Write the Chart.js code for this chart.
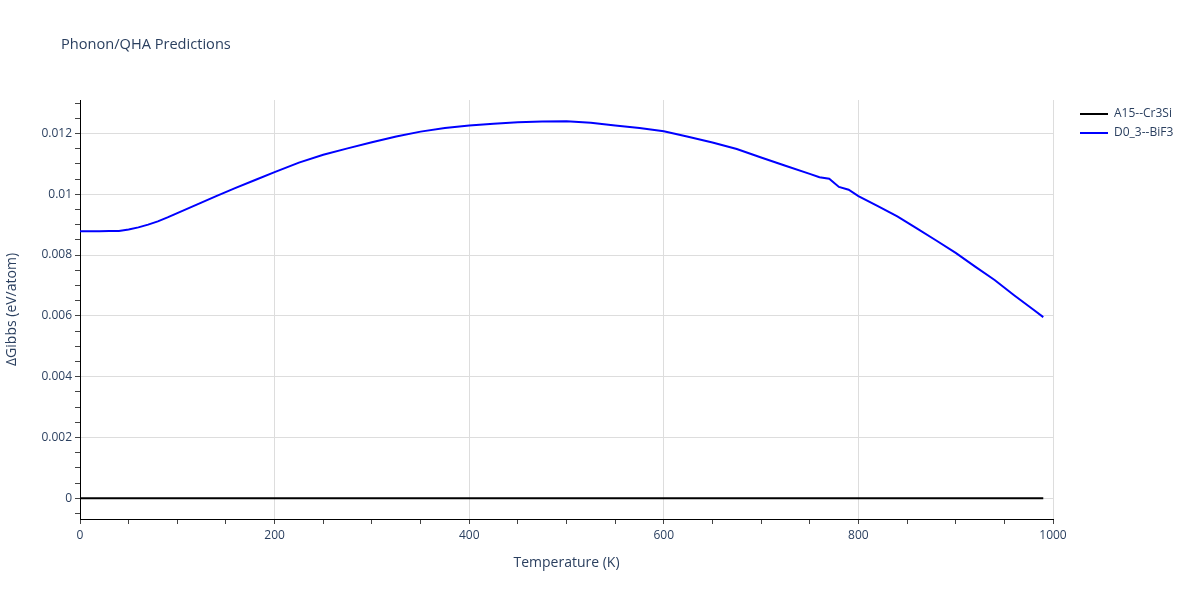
<!DOCTYPE html>
<html>
<head>
<meta charset="utf-8">
<script src="https://cdn.jsdelivr.net/npm/chart.js@4/dist/chart.umd.min.js"></script>
<style>
html,body{margin:0;padding:0;background:#fff;}
#wrap{position:relative;width:1200px;height:600px;}
</style>
</head>
<body>
<div id="wrap"><canvas id="c" width="1200" height="600"></canvas></div>
<script>
const chartTitle = "Phonon/QHA Predictions";
const xTitle = "Temperature (K)";
const yTitle = "ΔGibbs (eV/atom)";
const seriesNames = ["A15--Cr3Si", "D0_3--BiF3"];
const seriesColors = ["#000000", "#0000ff"];

const tempsA15 = [0, 990];
const gibbsA15 = [0, 0];

const tempsD03 = [0,10,20,30,40,50,60,70,80,90,100,120,140,160,180,200,225,250,275,300,325,350,375,400,425,450,475,500,525,550,575,600,625,650,675,700,725,750,760,770,780,790,800,820,840,860,880,900,920,940,960,980,990];
const gibbsD03 = [0.00878,0.00878,0.00878,0.00879,0.00879,0.00884,0.00891,0.00900,0.00911,0.00924,0.00938,0.00966,0.00994,0.01021,0.01047,0.01073,0.01104,0.01130,0.01151,0.01171,0.01190,0.01206,0.01218,0.01226,0.01232,0.01237,0.01239,0.01240,0.01235,0.01226,0.01218,0.01207,0.01189,0.01170,0.01149,0.01121,0.01094,0.01067,0.01056,0.01051,0.01024,0.01015,0.00994,0.00961,0.00927,0.00888,0.00848,0.00807,0.00762,0.00718,0.00668,0.00620,0.00596];

const xLabelTicks = [0,200,400,600,800,1000];
const yLabelTicks = [0,0.002,0.004,0.006,0.008,0.01,0.012];

const FONT = "'Open Sans', verdana, arial, sans-serif";
const TXT = "#2a3f5f";

function toXY(xs, ys){ return xs.map((x,i)=>({x:x, y:ys[i]})); }
function isMajor(v, step){ return Math.abs(v/step - Math.round(v/step)) < 1e-6; }

const overlay = {
  id:'overlay',
  afterDraw(chart){
    const ctx = chart.ctx;
    ctx.save();
    ctx.fillStyle = TXT;
    ctx.font = "14.6px " + FONT;
    ctx.textBaseline = "middle";
    ctx.textAlign = "left";
    ctx.fillText(chartTitle, 61, 45);
    ctx.font = "12px " + FONT;
    seriesNames.forEach((n,i)=>{
      const y = 114 + i*19;
      ctx.strokeStyle = seriesColors[i];
      ctx.lineWidth = 2;
      ctx.beginPath(); ctx.moveTo(1080,y); ctx.lineTo(1108,y); ctx.stroke();
      ctx.fillStyle = TXT;
      ctx.fillText(n, 1114, y);
    });
    ctx.restore();
  }
};

new Chart(document.getElementById('c'), {
  type:'line',
  data:{
    datasets:[
      {label:seriesNames[0], data:toXY(tempsA15,gibbsA15), borderColor:seriesColors[0], borderWidth:2, pointRadius:0, tension:0, fill:false},
      {label:seriesNames[1], data:toXY(tempsD03,gibbsD03), borderColor:seriesColors[1], borderWidth:2, pointRadius:0, tension:0, fill:false}
    ]
  },
  options:{
    responsive:false,
    animation:false,
    layout:{padding:{top:100,right:147,bottom:0,left:0}},
    plugins:{legend:{display:false}, title:{display:false}, tooltip:{enabled:false}},
    scales:{
      x:{
        type:'linear', min:0, max:1000,
        afterFit(s){ s.height = 81; },
        ticks:{stepSize:50, includeBounds:false, autoSkip:false, maxRotation:0, padding:4,
          color:TXT, font:{family:FONT, size:12},
          callback:(v)=> xLabelTicks.includes(Math.round(v)) && isMajor(v,200) ? String(Math.round(v)) : ''},
        grid:{
          color:(c)=> (c.tick && isMajor(c.tick.value,200) && c.tick.value>0) ? '#dddddd' : 'rgba(0,0,0,0)',
          tickColor:'#444', tickLength:5, drawTicks:true, lineWidth:1
        },
        border:{display:true, color:'#000', width:1},
        title:{display:true, text:xTitle, color:TXT, font:{family:FONT, size:14}, padding:{top:4,bottom:29}}
      },
      y:{
        type:'linear', min:-0.00068, max:0.0131,
        afterFit(s){ s.width = 80; },
        ticks:{stepSize:0.0005, includeBounds:false, autoSkip:false, padding:3,
          color:TXT, font:{family:FONT, size:12},
          callback:(v)=> {
            if(!isMajor(v,0.002)) return '';
            const r = Math.round(v/0.002)*0.002;
            const f = yLabelTicks.find(t=>Math.abs(t-r)<1e-9);
            return f===undefined ? '' : String(f);
          }},
        grid:{
          color:(c)=> (c.tick && isMajor(c.tick.value,0.002)) ? '#dddddd' : 'rgba(0,0,0,0)',
          tickColor:'#444', tickLength:5, drawTicks:true, lineWidth:1
        },
        border:{display:true, color:'#000', width:1},
        title:{display:true, text:yTitle, color:TXT, font:{family:FONT, size:14}, padding:{top:4,bottom:4}}
      }
    }
  },
  plugins:[overlay]
});
</script>
</body>
</html>
